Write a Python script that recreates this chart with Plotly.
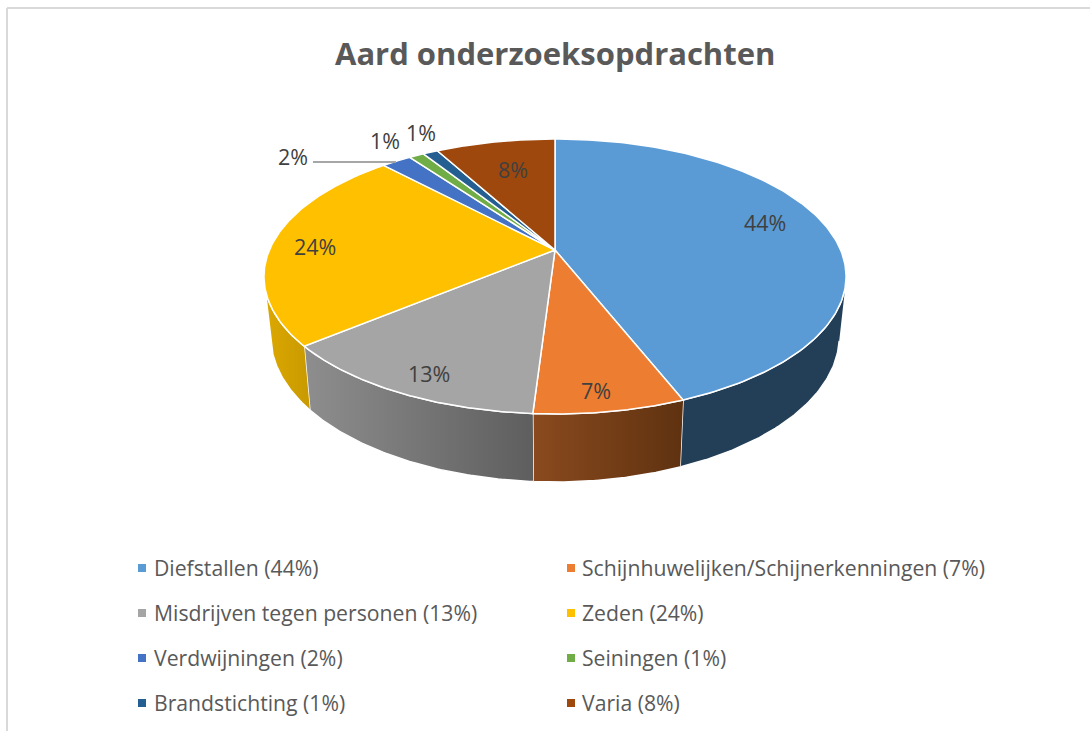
import numpy as np
import plotly.graph_objects as go

# ---- data ----
categories = ["Diefstallen", "Schijnhuwelijken/Schijnerkenningen", "Misdrijven tegen personen",
              "Zeden", "Verdwijningen", "Seiningen", "Brandstichting", "Varia"]
values = [44, 7, 13, 24, 2, 1, 1, 8]
title_text = "Aard onderzoeksopdrachten"

# ---- styles ----
top_colors = ["#5B9BD5", "#ED7D31", "#A5A5A5", "#FFC000", "#4472C4", "#70AD47", "#255E91", "#9E480E"]
wall_left = ["#233F58", "#8A4A1E", "#8E8E8E", "#DDA800", "#2B4A80", "#446A2B", "#163A5A", "#5F2B08"]
wall_right = ["#233F58", "#5F3210", "#5E5E5E", "#C89A00", "#2B4A80", "#446A2B", "#163A5A", "#5F2B08"]
label_xy = [(765, 222), (596, 390), (429, 373), (315, 246), (293, 156), (385, 140), (421, 132), (513, 169)]
FONT = "Open Sans"
CX, CY, RX, RY, K = 555.0, 250.0, 285.6, 132.4, 0.1927
BOTTOM_SCALE, BOTTOM_DROP = 0.977, 57.9
VIS_MIN, VIS_MAX = 103.0, 257.0


def top_point(theta_deg):
    t = np.radians(theta_deg)
    u, v = np.sin(t), np.cos(t)
    w = 1 + K * v
    return CX + RX * u / w, CY - RY * v / w


def bottom_point(theta_deg):
    t = np.radians(theta_deg)
    u, v = np.sin(t), np.cos(t)
    w = 1 + K * v
    return (CX + BOTTOM_SCALE * RX * u / w,
            CY - BOTTOM_SCALE * RY * v / w + BOTTOM_DROP / w)


fig = go.Figure()
edges = np.concatenate([[0], np.cumsum(values)]) / sum(values) * 360.0

# side walls
for i, name in enumerate(categories):
    a, b = max(edges[i], VIS_MIN), min(edges[i + 1], VIS_MAX)
    if b <= a:
        continue
    th = np.linspace(a, b, 80)
    xt, yt = top_point(th)
    xb, yb = bottom_point(th[::-1])
    fig.add_trace(go.Scatter(
        x=np.concatenate([xt, xb]), y=np.concatenate([yt, yb]),
        mode="lines", fill="toself", line=dict(color="white", width=1.5),
        fillgradient=dict(type="horizontal", colorscale=[[0, wall_left[i]], [1, wall_right[i]]]),
        hoverinfo="skip", showlegend=False))

# top slices
for i, name in enumerate(categories):
    th = np.linspace(edges[i], edges[i + 1], 160)
    xt, yt = top_point(th)
    fig.add_trace(go.Scatter(
        x=np.concatenate([[CX], xt, [CX]]), y=np.concatenate([[CY], yt, [CY]]),
        mode="lines", fill="toself", fillcolor=top_colors[i],
        line=dict(color="white", width=1.5), name=name, showlegend=False,
        hovertemplate=f"{name}: {values[i]}%<extra></extra>"))

annotations = [dict(x=555, y=53, text=f"<b>{title_text}</b>", showarrow=False,
                    xanchor="center", yanchor="middle",
                    font=dict(family=FONT, size=31, color="#595959"))]

for i, v in enumerate(values):
    annotations.append(dict(x=label_xy[i][0], y=label_xy[i][1], text=f"{v}%", showarrow=False,
                            xanchor="center", yanchor="middle",
                            font=dict(family=FONT, size=21.5, color="#404040")))

# legend: two columns, row by row
col_marker = [142, 571]
col_text = [152, 580]
rows = [568, 613, 658, 703]
for i, name in enumerate(categories):
    r, c = i // 2, i % 2
    fig.add_trace(go.Scatter(x=[col_marker[c]], y=[rows[r]], mode="markers",
                             marker=dict(symbol="square", size=8, color=top_colors[i]),
                             hoverinfo="skip", showlegend=False))
    annotations.append(dict(x=col_text[c], y=rows[r] - 1, text=f"{name} ({values[i]}%)", showarrow=False,
                            xanchor="left", yanchor="middle",
                            font=dict(family=FONT, size=21.2, color="#595959")))

shapes = [
    dict(type="line", x0=7, x1=7, y0=8, y1=731, line=dict(color="#D9D9D9", width=2)),
    dict(type="line", x0=7, x1=1090, y0=8, y1=8, line=dict(color="#D9D9D9", width=2)),
    dict(type="line", x0=313, x1=396, y0=162, y1=162, line=dict(color="#A6A6A6", width=2)),
]

fig.update_layout(
    width=1090, height=731, margin=dict(l=0, r=0, t=0, b=0),
    paper_bgcolor="white", plot_bgcolor="white", showlegend=False,
    xaxis=dict(range=[0, 1090], visible=False, fixedrange=True),
    yaxis=dict(range=[731, 0], visible=False, fixedrange=True),
    annotations=annotations, shapes=shapes,
)

fig.write_html("out.html", config={"displayModeBar": False},
               post_script="document.body.style.margin='0';document.body.style.overflow='hidden';")
